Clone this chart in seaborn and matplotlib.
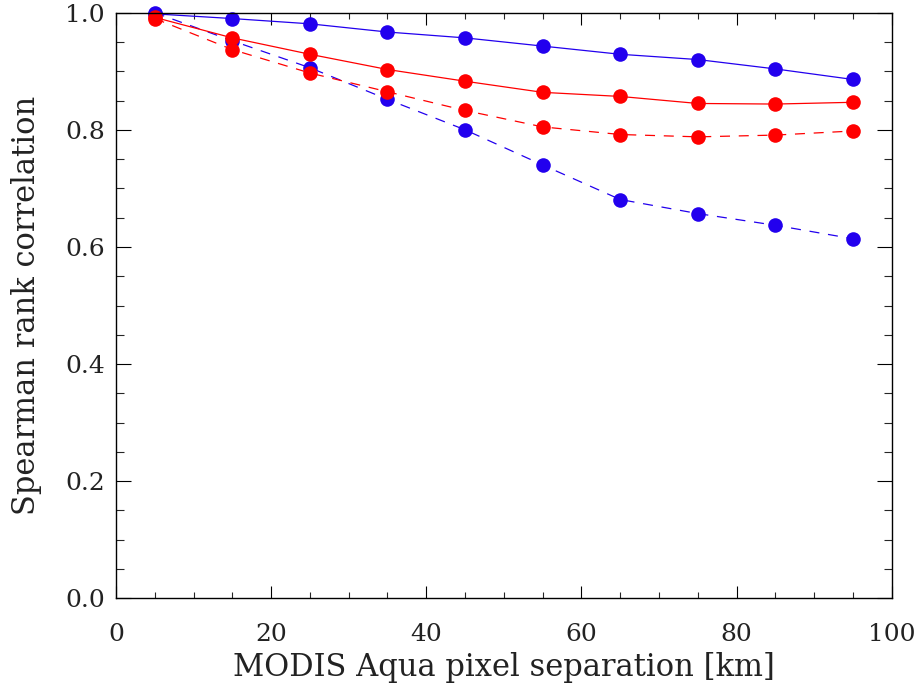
import matplotlib
matplotlib.use("Agg")
import matplotlib.pyplot as plt
from matplotlib.ticker import MultipleLocator
import seaborn as sns
import pandas as pd

# ---- data ----
separation_km = [5, 15, 25, 35, 45, 55, 65, 75, 85, 95]
blue_solid = [0.998, 0.990, 0.981, 0.967, 0.957, 0.943, 0.929, 0.920, 0.904, 0.886]
blue_dashed = [1.000, 0.952, 0.906, 0.852, 0.800, 0.740, 0.681, 0.657, 0.637, 0.614]
red_solid = [0.992, 0.957, 0.929, 0.903, 0.883, 0.864, 0.857, 0.845, 0.844, 0.847]
red_dashed = [0.990, 0.937, 0.897, 0.865, 0.833, 0.805, 0.792, 0.788, 0.791, 0.798]

x_label = "MODIS Aqua pixel separation [km]"
y_label = "Spearman rank correlation"

BLUE = "#2200ee"
RED = "#ff0000"

sns.set_style("ticks")
plt.rcParams["font.family"] = ["DejaVu Serif"]

fig = plt.figure(figsize=(9.23, 6.86), dpi=100)
ax = fig.add_axes([116 / 923, 1 - 598.3 / 686, (891.7 - 116) / 923, (598.3 - 12.7) / 686])

series = [
    (blue_solid, BLUE, "-"),
    (blue_dashed, BLUE, (0, (8, 7))),
    (red_solid, RED, "-"),
    (red_dashed, RED, (0, (8, 7))),
]
for vals, col, ls in series:
    df = pd.DataFrame({"x": separation_km, "y": vals})
    sns.lineplot(data=df, x="x", y="y", ax=ax, color=col, linestyle=ls,
                 linewidth=0.9, marker="o", markersize=10.5,
                 markeredgewidth=0, markerfacecolor=col, clip_on=False)

ax.set_xlim(0, 100)
ax.set_ylim(0, 1.0)
ax.xaxis.set_major_locator(MultipleLocator(20))
ax.xaxis.set_minor_locator(MultipleLocator(5))
ax.yaxis.set_major_locator(MultipleLocator(0.2))
ax.yaxis.set_minor_locator(MultipleLocator(0.05))
ax.yaxis.set_major_formatter(matplotlib.ticker.FormatStrFormatter("%.1f"))

for s in ax.spines.values():
    s.set_visible(True)
    s.set_color("black")
    s.set_linewidth(1.0)

ax.tick_params(axis="x", which="major", direction="in", length=8.5, width=0.8,
               top=True, bottom=True, pad=18, labelsize=18, colors="black")
ax.tick_params(axis="x", which="minor", direction="in", length=4.3, width=0.8,
               top=True, bottom=True)
ax.tick_params(axis="y", which="major", direction="in", length=11, width=0.8,
               left=True, right=True, pad=8, labelsize=18, colors="black")
ax.tick_params(axis="y", which="minor", direction="in", length=5.8, width=0.8,
               left=True, right=True)
for lab in ax.get_xticklabels() + ax.get_yticklabels():
    lab.set_color("#222222")

ax.set_xlabel(x_label, fontsize=22, color="#222222")
ax.set_ylabel(y_label, fontsize=22, color="#222222")
ax.xaxis.set_label_coords(0.5, (598.3 - 652) / 585.6)
ax.yaxis.set_label_coords((42 - 116) / 775.7, 0.501)

fig.savefig("out.png", dpi=100)
